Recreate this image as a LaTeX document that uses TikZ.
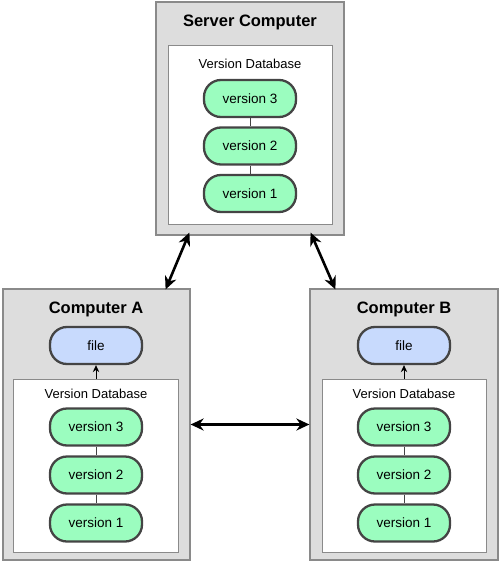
\documentclass[tikz,border=0pt]{standalone}
\usepackage{fontspec}
\setmainfont{Liberation Sans}
\usetikzlibrary{shapes,backgrounds,positioning,arrows.meta}
\usepackage{xcolor}
\definecolor{boxgray}{HTML}{DDDDDD}
\definecolor{edgegray}{HTML}{8A8A8A}
\definecolor{pillgreen}{HTML}{9BFDBF}
\definecolor{pillblue}{HTML}{C8DAFD}
\definecolor{pilledge}{HTML}{444444}

\begin{document}
\begin{tikzpicture}[x=1bp, y=-1bp]
            \tikzstyle{machine} = [rectangle, draw=edgegray, fill=boxgray, line width=1.2bp, inner sep=0]
            \tikzstyle{database} = [rectangle, draw=edgegray, fill=white, line width=1bp, inner sep=0]
            \tikzstyle{version} = [rectangle, rounded corners=17bp, draw=pilledge, fill=pillgreen, line width=2.3bp, minimum width=92bp, minimum height=37bp, font=\fontsize{13.5bp}{15bp}\selectfont]
            \tikzstyle{checkout} = [version, fill=pillblue]
            \tikzstyle{title} = [font=\fontsize{16.5bp}{18bp}\selectfont\bfseries]
            \tikzstyle{dblabel} = [font=\fontsize{13bp}{15bp}\selectfont]
            \tikzstyle{link} = [draw=pilledge, line width=1bp]
            \tikzstyle{sync} = [{Stealth[length=13bp,width=12bp]}-{Stealth[length=13bp,width=12bp]}, line width=2.6bp, draw=black]
            \tikzstyle{restore} = [-{Stealth[length=7bp,width=6.5bp]}, line width=1bp, draw=black]
            \useasboundingbox (0,0) rectangle (500,563);
            % server
            \node[machine, minimum width=188bp, minimum height=233bp] (srv) at (250, 118.5) {};
            \node[database, minimum width=164bp, minimum height=178bp] (srvdb) at (250, 135) {};
            \node[title] (srvtitle) at (250, 22) {Server Computer};
            \node[dblabel] (srvlabel) at (250, 64) {Version Database};
            \node[version] (srv3) at (250, 98.5) {version 3};
            \node[version] (srv2) at (250, 146) {version 2};
            \node[version] (srv1) at (250, 193.5) {version 1};
            \draw[link] (srv3) -- (srv2);
            \draw[link] (srv2) -- (srv1);
            % computer A
            \node[machine, minimum width=187bp, minimum height=271bp] (pcA) at (96.5, 424.5) {};
            \node[database, minimum width=164bp, minimum height=173bp] (pcAdb) at (96, 465.5) {};
            \node[title] (pcAtitle) at (96, 309) {Computer A};
            \node[checkout] (pcAfile) at (96, 345.5) {file};
            \node[dblabel] (pcAlabel) at (96, 394) {Version Database};
            \node[version] (pcA3) at (96, 427) {version 3};
            \node[version] (pcA2) at (96, 475) {version 2};
            \node[version] (pcA1) at (96, 523) {version 1};
            \draw[link] (pcA3) -- (pcA2);
            \draw[link] (pcA2) -- (pcA1);
            \draw[restore] (pcAdb.north) -- (pcAfile);
            % computer B
            \node[machine, minimum width=188bp, minimum height=271bp] (pcB) at (404, 424.5) {};
            \node[database, minimum width=164bp, minimum height=173bp] (pcBdb) at (404, 465.5) {};
            \node[title] (pcBtitle) at (404, 309) {Computer B};
            \node[checkout] (pcBfile) at (404, 345.5) {file};
            \node[dblabel] (pcBlabel) at (404, 394) {Version Database};
            \node[version] (pcB3) at (404, 427) {version 3};
            \node[version] (pcB2) at (404, 475) {version 2};
            \node[version] (pcB1) at (404, 523) {version 1};
            \draw[link] (pcB3) -- (pcB2);
            \draw[link] (pcB2) -- (pcB1);
            \draw[restore] (pcBdb.north) -- (pcBfile);
            % sync arrows
            \draw[sync] ([xshift=34bp, yshift=3bp]srv.south west) -- ([xshift=-25bp, yshift=-1bp]pcA.north east);
            \draw[sync] ([xshift=-34bp, yshift=3bp]srv.south east) -- ([xshift=26bp, yshift=-1bp]pcB.north west);
            \draw[sync] (pcA.east) -- (pcB.west);
        \end{tikzpicture}
\end{document}
